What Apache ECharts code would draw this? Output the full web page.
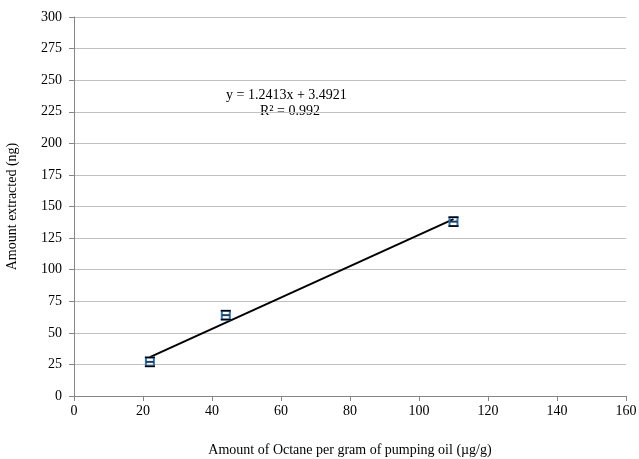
<!DOCTYPE html>
<html><head><meta charset="utf-8">
<script src="https://cdn.jsdelivr.net/npm/echarts@6/dist/echarts.min.js"></script>
<style>html,body{margin:0;padding:0;background:#fff}#c{width:639px;height:459px}</style>
</head><body><div id="c"></div>
<script>
const xValues = [22, 44, 110];
const yValues = [27, 64, 138];
const yErrors = [3.5, 3.5, 3.5];
const slope = 1.2413, intercept = 3.4921;
const trendX = [22, 110];
const equationText = 'y = 1.2413x + 3.4921';
const r2Text = 'R² = 0.992';

const font = 'Liberation Serif, Times New Roman, serif';
const chart = echarts.init(document.getElementById('c'));
const pts = xValues.map((x, i) => [x, yValues[i], yErrors[i]]);
chart.setOption({
  animation: false,
  grid: {left: 74, right: 13, top: 17, bottom: 63, containLabel: false, outerBoundsMode: 'none'},
  xAxis: {
    type: 'value', min: 0, max: 160, interval: 20,
    name: 'Amount of Octane per gram of pumping oil (µg/g)',
    nameLocation: 'middle', nameGap: 47,
    nameTextStyle: {fontFamily: font, fontSize: 14, color: '#000'},
    axisLine: {lineStyle: {color: '#868686'}},
    axisTick: {show: true, length: 5, inside: false, lineStyle: {color: '#868686'}},
    axisLabel: {fontFamily: font, fontSize: 14, color: '#000', margin: 8},
    splitLine: {show: false}
  },
  yAxis: {
    type: 'value', min: 0, max: 300, interval: 25,
    name: 'Amount extracted (ng)', nameLocation: 'middle', nameGap: 55,
    nameTextStyle: {fontFamily: font, fontSize: 14, color: '#000'},
    axisLine: {show: true, lineStyle: {color: '#868686'}},
    axisTick: {show: true, length: 5, lineStyle: {color: '#868686'}},
    axisLabel: {fontFamily: font, fontSize: 14, color: '#000', margin: 12},
    splitLine: {lineStyle: {color: '#c0c0c0', width: 1}}
  },
  series: [
    {
      type: 'line', data: trendX.map(x => [x, slope * x + intercept]),
      symbol: 'none', lineStyle: {color: '#000', width: 2}, z: 3
    },
    {
      type: 'custom', data: pts, z: 4,
      renderItem: function (params, api) {
        const c = api.coord([api.value(0), api.value(1)]);
        const top = api.coord([api.value(0), api.value(1) + api.value(2)]);
        const bot = api.coord([api.value(0), api.value(1) - api.value(2)]);
        const hw = 4;
        return {type: 'group', children: [
          {type: 'rect', shape: {x: c[0] - hw, y: top[1], width: hw * 2, height: bot[1] - top[1]},
           style: {fill: 'none', stroke: '#2e75b6', lineWidth: 2}},
          {type: 'line', shape: {x1: c[0] - hw, y1: c[1], x2: c[0] + hw, y2: c[1]},
           style: {stroke: '#1f3f66', lineWidth: 2}},
          {type: 'line', shape: {x1: c[0] - hw - 1, y1: top[1], x2: c[0] + hw + 1, y2: top[1]},
           style: {stroke: '#000', lineWidth: 1.5}},
          {type: 'line', shape: {x1: c[0] - hw - 1, y1: bot[1], x2: c[0] + hw + 1, y2: bot[1]},
           style: {stroke: '#000', lineWidth: 1.5}}
        ]};
      }
    }
  ],
  graphic: [
    {type: 'text', left: 226, top: 88, style: {text: equationText, font: '14px ' + font, fill: '#000'}},
    {type: 'text', left: 260, top: 104, style: {text: r2Text, font: '14px ' + font, fill: '#000'}}
  ]
});
</script></body></html>
